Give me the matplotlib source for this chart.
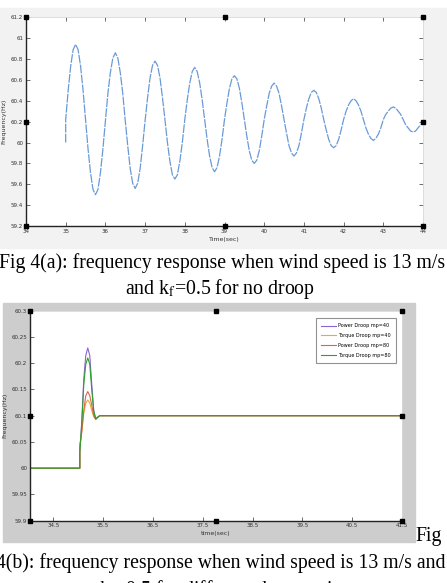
import matplotlib
matplotlib.use('Agg')
import matplotlib.pyplot as plt
from matplotlib.patches import Rectangle

plt.rcParams['mathtext.fontset'] = 'stix'

W, H = 447, 583

# ---- Fig 4(a): no droop, damped oscillation ----
time_a = [35.0, 35.0,
          35.0625, 35.125, 35.1875, 35.25, 35.3125, 35.375, 35.4375, 35.5,
          35.5625, 35.625, 35.6875, 35.75, 35.8125, 35.875, 35.9375, 36.0,
          36.0625, 36.125, 36.1875, 36.25, 36.3125, 36.375, 36.4375, 36.5,
          36.5625, 36.625, 36.6875, 36.75, 36.8125, 36.875, 36.9375, 37.0,
          37.0625, 37.125, 37.1875, 37.25, 37.3125, 37.375, 37.4375, 37.5,
          37.5625, 37.625, 37.6875, 37.75, 37.8125, 37.875, 37.9375, 38.0,
          38.0625, 38.125, 38.1875, 38.25, 38.3125, 38.375, 38.4375, 38.5,
          38.5625, 38.625, 38.6875, 38.75, 38.8125, 38.875, 38.9375, 39.0,
          39.0625, 39.125, 39.1875, 39.25, 39.3125, 39.375, 39.4375, 39.5,
          39.5625, 39.625, 39.6875, 39.75, 39.8125, 39.875, 39.9375, 40.0,
          40.0625, 40.125, 40.1875, 40.25, 40.3125, 40.375, 40.4375, 40.5,
          40.5625, 40.625, 40.6875, 40.75, 40.8125, 40.875, 40.9375, 41.0,
          41.0625, 41.125, 41.1875, 41.25, 41.3125, 41.375, 41.4375, 41.5,
          41.5625, 41.625, 41.6875, 41.75, 41.8125, 41.875, 41.9375, 42.0,
          42.0625, 42.125, 42.1875, 42.25, 42.3125, 42.375, 42.4375, 42.5,
          42.5625, 42.625, 42.6875, 42.75, 42.8125, 42.875, 42.9375, 43.0,
          43.0625, 43.125, 43.1875, 43.25, 43.3125, 43.375, 43.4375, 43.5,
          43.5625, 43.625, 43.6875, 43.75, 43.8125, 43.875, 43.9375, 44.0]
freq_a = [60.0, 60.22,
          60.50, 60.73, 60.89, 60.94, 60.89, 60.73, 60.50, 60.22,
          59.94, 59.71, 59.55, 59.50, 59.55, 59.71, 59.94, 60.21,
          60.47, 60.67, 60.81, 60.86, 60.81, 60.67, 60.47, 60.21,
          59.97, 59.75, 59.61, 59.56, 59.61, 59.75, 59.97, 60.21,
          60.43, 60.62, 60.74, 60.78, 60.74, 60.62, 60.43, 60.22,
          60.00, 59.82, 59.69, 59.65, 59.69, 59.82, 60.00, 60.22,
          60.41, 60.57, 60.68, 60.72, 60.68, 60.57, 60.41, 60.22,
          60.03, 59.87, 59.76, 59.72, 59.76, 59.87, 60.03, 60.22,
          60.38, 60.52, 60.61, 60.64, 60.61, 60.52, 60.38, 60.22,
          60.06, 59.92, 59.83, 59.80, 59.83, 59.92, 60.06, 60.22,
          60.35, 60.47, 60.54, 60.57, 60.54, 60.47, 60.35, 60.22,
          60.09, 59.97, 59.90, 59.87, 59.90, 59.97, 60.09, 60.22,
          60.33, 60.42, 60.48, 60.50, 60.48, 60.42, 60.33, 60.22,
          60.12, 60.03, 59.97, 59.95, 59.97, 60.03, 60.12, 60.22,
          60.30, 60.36, 60.40, 60.42, 60.40, 60.36, 60.30, 60.22,
          60.14, 60.08, 60.04, 60.02, 60.04, 60.08, 60.14, 60.22,
          60.27, 60.30, 60.33, 60.34, 60.33, 60.30, 60.27, 60.22,
          60.17, 60.14, 60.11, 60.10, 60.11, 60.14, 60.17, 60.18]
xticks_a = [34, 35, 36, 37, 38, 39, 40, 41, 42, 43, 44]
yticks_a = [59.2, 59.4, 59.6, 59.8, 60.0, 60.2, 60.4, 60.6, 60.8, 61.0, 61.2]
ylabels_a = ['59.2', '59.4', '59.6', '59.8', '60', '60.2', '60.4', '60.6', '60.8', '61', '61.2']

# ---- Fig 4(b): droop gains ----
time_b = [34.03, 35.03, 35.03, 35.07, 35.11, 35.15, 35.19, 35.23, 35.27, 35.31, 35.35, 35.39, 35.43, 35.47, 41.5]
power_40 = [60.0, 60.0, 60.03, 60.09, 60.17, 60.215, 60.229, 60.215, 60.16, 60.11, 60.094, 60.097, 60.1, 60.1, 60.1]
torque_40 = [60.0, 60.0, 60.045, 60.07, 60.105, 60.124, 60.13, 60.124, 60.11, 60.098, 60.093, 60.097, 60.1, 60.1, 60.1]
power_80 = [60.0, 60.0, 60.04, 60.07, 60.11, 60.138, 60.146, 60.138, 60.12, 60.1, 60.093, 60.097, 60.1, 60.1, 60.1]
torque_80 = [60.0, 60.0, 60.03, 60.085, 60.16, 60.198, 60.21, 60.198, 60.15, 60.108, 60.094, 60.097, 60.1, 60.1, 60.1]
series_b = [('Power Droop mp=40', power_40, '#8b62d9'),
            ('Torque Droop mp=40', torque_40, '#f0a830'),
            ('Power Droop mp=80', power_80, '#d9654a'),
            ('Torque Droop mp=80', torque_80, '#2e9e2e')]
xticks_b = [34.5, 35.5, 36.5, 37.5, 38.5, 39.5, 40.5, 41.5]
yticks_b = [59.9, 59.95, 60.0, 60.05, 60.1, 60.15, 60.2, 60.25, 60.3]
ylabels_b = ['59.9', '59.95', '60', '60.05', '60.1', '60.15', '60.2', '60.25', '60.3']


def frac(l, t, r, b):
    return [l / W, 1 - b / H, (r - l) / W, (b - t) / H]


def panel(l, t, r, b, color):
    fig.add_artist(Rectangle((l / W, 1 - b / H), (r - l) / W, (b - t) / H,
                             transform=fig.transFigure, color=color, zorder=-5))


def handles(ax):
    ax.plot([0, 0.5, 1, 1, 1, 0.5, 0, 0], [1, 1, 1, 0.5, 0, 0, 0, 0.5], 's',
            transform=ax.transAxes, ms=2.5, color='black', clip_on=False, zorder=10)


def style_axes(ax):
    for side in ['left', 'bottom']:
        ax.spines[side].set_color('#222222')
        ax.spines[side].set_linewidth(1.0)
    for side in ['top', 'right']:
        ax.spines[side].set_color('#d8d8d8')
        ax.spines[side].set_linewidth(0.6)
    ax.tick_params(labelsize=4, colors='#333333', direction='in', length=3, width=0.5, pad=2)


fig = plt.figure(figsize=(W / 100, H / 100), dpi=100)
fig.patch.set_facecolor('white')

# panel backgrounds
panel(0, 8, 447, 248, '#f2f2f2')
panel(3, 303, 415, 542, '#cdcdcd')

# (a)
ax1 = fig.add_axes(frac(26, 17.3, 423, 226))
ax1.plot(time_a, freq_a, color='#6a9ad6', lw=0.9, linestyle=(0, (7, 1.0)))
ax1.set_xlim(34, 44)
ax1.set_ylim(59.2, 61.2)
ax1.set_xticks(xticks_a)
ax1.set_xticklabels([str(x) for x in xticks_a])
ax1.set_yticks(yticks_a)
ax1.set_yticklabels(ylabels_a)
style_axes(ax1)
ax1.tick_params(top=True, right=True)
ax1.set_xlabel('Time(sec)', fontsize=4.5, labelpad=2, color='#333333')
ax1.set_ylabel('Frequency(Hz)', fontsize=4.5, labelpad=3, color='#333333')
handles(ax1)

# (b)
ax2 = fig.add_axes(frac(30, 310.7, 402, 520.7))
for name, vals, col in series_b:
    ax2.plot(time_b, vals, color=col, lw=0.8, label=name)
ax2.set_xlim(34.03, 41.5)
ax2.set_ylim(59.9, 60.3)
ax2.set_xticks(xticks_b)
ax2.set_xticklabels([str(x) for x in xticks_b])
ax2.set_yticks(yticks_b)
ax2.set_yticklabels(ylabels_b)
style_axes(ax2)
ax2.set_xlabel('time(sec)', fontsize=4.5, labelpad=2, color='#333333')
ax2.set_ylabel('Frequency(Hz)', fontsize=4.5, labelpad=3, color='#333333')
leg = ax2.legend(loc='upper right', bbox_to_anchor=(0.99, 0.975), fontsize=3.5,
                 frameon=True, fancybox=False, handlelength=3, borderpad=1.0,
                 labelspacing=1.0, handletextpad=0.5)
leg.get_frame().set_edgecolor('#777777')
leg.get_frame().set_linewidth(0.8)
handles(ax2)

# captions
serif = 'Liberation Serif'
fig.text(445 / W, 1 - 263 / H, 'Fig 4(a): frequency response when wind speed is 13 m/s',
         ha='right', va='center', fontsize=14.2, family=serif)
fig.text(220 / W, 1 - 289 / H, r'and k$_\mathrm{f}$=0.5 for no droop',
         ha='center', va='center', fontsize=14.2, family=serif)
fig.text(442 / W, 1 - 536 / H, 'Fig', ha='right', va='center', fontsize=14.2, family=serif)
fig.text(445 / W, 1 - 563 / H, '4(b): frequency response when wind speed is 13 m/s and',
         ha='right', va='center', fontsize=14.2, family=serif)
fig.text(225 / W, 1 - 590 / H, r'k$_\mathrm{f}$=0.5 for different droop gains',
         ha='center', va='center', fontsize=14.2, family=serif)

plt.savefig('out.png', dpi=100)
